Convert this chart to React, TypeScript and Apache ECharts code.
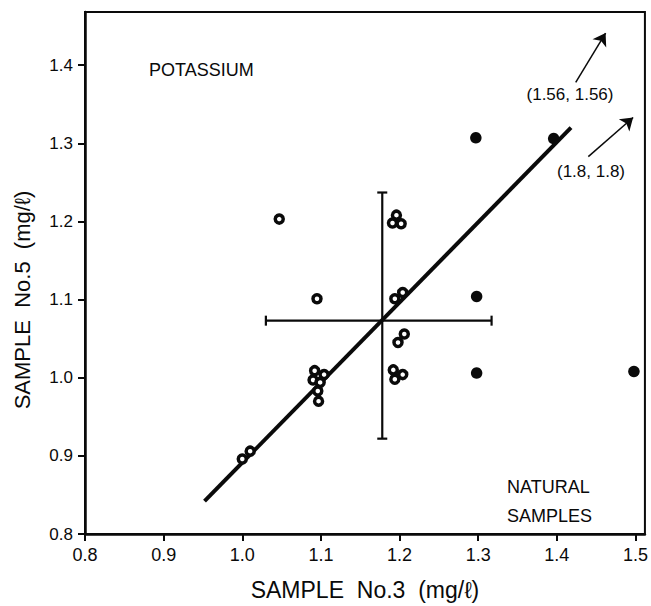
import React, { useEffect, useRef } from "react";
import * as echarts from "echarts";

// Potassium: sample No.3 vs sample No.5 (mg/ℓ), natural samples
const ringPoints: [number, number][] = [
  [1.0, 0.896], [1.01, 0.906],
  [1.092, 1.009], [1.09, 0.997], [1.104, 1.004], [1.099, 0.994], [1.096, 0.983], [1.097, 0.97],
  [1.095, 1.101], [1.047, 1.203],
  [1.196, 1.208], [1.191, 1.198], [1.202, 1.197],
  [1.194, 1.101], [1.204, 1.109],
  [1.198, 1.045], [1.206, 1.056],
  [1.192, 1.01], [1.194, 0.998], [1.204, 1.004],
];
const solidPoints: [number, number][] = [
  [1.297, 1.307], [1.298, 1.104], [1.298, 1.006], [1.396, 1.306], [1.498, 1.008],
];
// least-squares fit line end points
const fitLine: [number, number][] = [[0.952, 0.842], [1.418, 1.32]];
// mean with ± spread: [xMean, yMean, xLow, xHigh, yLow, yHigh]
const meanCross: number[] = [1.178, 1.073, 1.03, 1.317, 0.922, 1.237];
// off-scale points indicated by arrows
const arrowA: [number, number][] = [[1.424, 1.378], [1.462, 1.441]];
const arrowB: [number, number][] = [[1.44, 1.283], [1.497, 1.333]];
const arrowLabels = ["(1.56, 1.56)", "(1.8, 1.8)"];
const xTicks = [0.8, 0.9, 1.0, 1.1, 1.2, 1.3, 1.4, 1.5];
const yTicks = [0.8, 0.9, 1.0, 1.1, 1.2, 1.3, 1.4];
const xRange = [0.8, 1.512];
const yRange = [0.8, 1.468];

const ink = "#0a0a0a";
const font = "'Liberation Sans', Arial, Helvetica, sans-serif";

export default function App() {
  const ref = useRef<HTMLDivElement>(null);

  useEffect(() => {
    if (!ref.current) return;
    const chart = echarts.init(ref.current, undefined, { renderer: "svg" });

    const axisCommon = (ticks: number[], fontSize: number, margin: number) => ({
      axisLine: { show: true, lineStyle: { color: ink, width: 2.5 } },
      axisTick: {
        show: true,
        inside: false,
        length: 7,
        customValues: ticks,
        lineStyle: { color: ink, width: 2 },
      },
      axisLabel: {
        color: ink,
        fontSize,
        fontFamily: font,
        margin,
        customValues: ticks,
        formatter: (v: number) => v.toFixed(1),
      },
      splitLine: { show: false },
    });

    chart.setOption({
      animation: false,
      backgroundColor: "#fff",
      grid: {
        left: 85,
        right: 4,
        top: 12,
        bottom: 71,
        show: true,
        borderColor: ink,
        borderWidth: 2,
        containLabel: false,
      },
      xAxis: {
        type: "value",
        min: xRange[0],
        max: xRange[1],
        name: "SAMPLE  No.3  (mg/ℓ)",
        nameLocation: "middle",
        nameGap: 44,
        nameTextStyle: { color: ink, fontSize: 23, fontFamily: font },
        ...axisCommon(xTicks, 18, 12),
      },
      yAxis: {
        type: "value",
        min: yRange[0],
        max: yRange[1],
        ...axisCommon(yTicks, 17, 12),
      },
      series: [
        {
          type: "line",
          data: fitLine,
          showSymbol: false,
          symbol: "none",
          lineStyle: { color: ink, width: 4 },
          silent: true,
          z: 2,
          markLine: {
            silent: true,
            symbol: ["none", "arrow"],
            symbolSize: 12,
            label: { show: false },
            lineStyle: { color: ink, width: 1.5, type: "solid" },
            data: [
              [{ coord: arrowA[0] }, { coord: arrowA[1] }],
              [{ coord: arrowB[0] }, { coord: arrowB[1] }],
            ],
          },
        },
        {
          type: "custom",
          data: [meanCross],
          encode: { x: 0, y: 1 },
          silent: true,
          z: 2,
          renderItem: (_params: any, api: any) => {
            const cy = api.value(1);
            const cx = api.value(0);
            const l = api.coord([api.value(2), cy]);
            const r = api.coord([api.value(3), cy]);
            const b = api.coord([cx, api.value(4)]);
            const t = api.coord([cx, api.value(5)]);
            const cap = 5;
            const style = { stroke: ink, lineWidth: 2.2 };
            const seg = (x1: number, y1: number, x2: number, y2: number) => ({
              type: "line",
              shape: { x1, y1, x2, y2 },
              style,
            });
            return {
              type: "group",
              children: [
                seg(l[0], l[1], r[0], r[1]),
                seg(b[0], b[1], t[0], t[1]),
                seg(l[0], l[1] - cap, l[0], l[1] + cap),
                seg(r[0], r[1] - cap, r[0], r[1] + cap),
                seg(b[0] - cap, b[1], b[0] + cap, b[1]),
                seg(t[0] - cap, t[1], t[0] + cap, t[1]),
              ],
            };
          },
        },
        {
          type: "scatter",
          data: ringPoints,
          symbol: "circle",
          symbolSize: 8,
          itemStyle: { color: "#fff", borderColor: ink, borderWidth: 3.5, opacity: 1 },
          z: 4,
        },
        {
          type: "scatter",
          data: solidPoints,
          symbol: "circle",
          symbolSize: 11.5,
          itemStyle: { color: ink, opacity: 1 },
          z: 4,
        },
      ],
      graphic: [
        {
          type: "text",
          x: 22,
          y: 300,
          rotation: Math.PI / 2,
          style: {
            text: "SAMPLE  No.5  (mg/ℓ)",
            fill: ink,
            font: `22px ${font}`,
            textAlign: "center",
            textVerticalAlign: "middle",
          },
        },
        {
          type: "text",
          left: 149,
          top: 61,
          style: { text: "POTASSIUM", fill: ink, font: `18px ${font}` },
        },
        {
          type: "text",
          left: 507,
          top: 472,
          style: { text: "NATURAL\nSAMPLES", fill: ink, font: `18px ${font}`, lineHeight: 29 },
        },
        {
          type: "text",
          x: 570,
          y: 94,
          style: {
            text: arrowLabels[0],
            fill: ink,
            font: `17px ${font}`,
            textAlign: "center",
            textVerticalAlign: "middle",
          },
        },
        {
          type: "text",
          x: 591,
          y: 171,
          style: {
            text: arrowLabels[1],
            fill: ink,
            font: `17px ${font}`,
            textAlign: "center",
            textVerticalAlign: "middle",
          },
        },
      ],
    });

    return () => chart.dispose();
  }, []);

  return (
    <div
      ref={ref}
      style={{ position: "fixed", left: 0, top: 0, width: 651, height: 606, background: "#fff" }}
    />
  );
}
